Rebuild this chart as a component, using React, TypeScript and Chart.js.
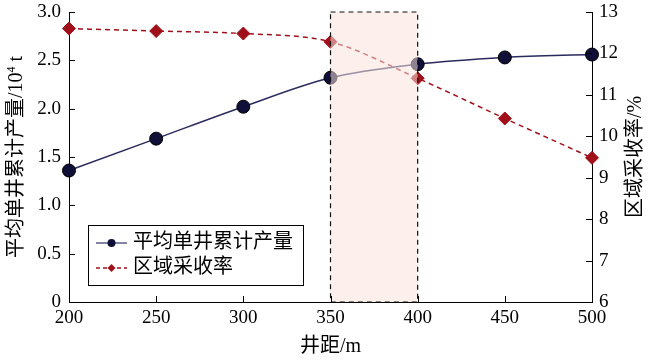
import React, { useEffect, useRef } from "react";
import { Chart, registerables } from "chart.js";
Chart.register(...registerables);

const wellSpacing = [200, 250, 300, 350, 400, 450, 500];
const avgCumulativeProduction = [1.36, 1.69, 2.02, 2.32, 2.46, 2.53, 2.56];
const recoveryRate = [12.6, 12.54, 12.48, 12.28, 11.4, 10.43, 9.48];
const leftTicks = [0, 0.5, 1.0, 1.5, 2.0, 2.5, 3.0];
const rightTicks = [6, 7, 8, 9, 10, 11, 12, 13];
const xTicks = [200, 250, 300, 350, 400, 450, 500];
const highlightRange = [350, 400];
const seriesNames = ["平均单井累计产量", "区域采收率"];
const xTitle = "井距/m";
const leftTitleParts = ["平均单井累计产量/10", "4", " t"];
const rightTitle = "区域采收率/%";

const FONT = "'Liberation Serif', 'Noto Sans CJK SC', serif";
const NAVY = "#0f0f38";
const NAVY_LINE = "#2a2a5e";
const RED = "#a0101a";

const overlay = {
  id: "overlay",
  afterDatasetsDraw(chart: any) {
    const ctx = chart.ctx;
    const { top, bottom, left, right } = chart.chartArea;
    const xs = chart.scales.x;
    const yl = chart.scales.y;
    const yr = chart.scales.y1;
    ctx.save();
    // highlight box
    const bx0 = xs.getPixelForValue(highlightRange[0]);
    const bx1 = xs.getPixelForValue(highlightRange[1]);
    ctx.fillStyle = "rgba(250, 226, 221, 0.55)";
    ctx.fillRect(bx0, top, bx1 - bx0, bottom - top);
    ctx.strokeStyle = "#111";
    ctx.lineWidth = 1.2;
    ctx.setLineDash([5, 4]);
    ctx.strokeRect(bx0, top, bx1 - bx0, bottom - top);
    ctx.setLineDash([]);

    // inward ticks
    ctx.strokeStyle = "#000";
    ctx.lineWidth = 1;
    const TL = 6;
    ctx.beginPath();
    xTicks.forEach((v) => {
      const x = Math.round(xs.getPixelForValue(v)) + 0.5;
      ctx.moveTo(x, bottom);
      ctx.lineTo(x, bottom - TL);
    });
    leftTicks.forEach((v) => {
      const y = Math.round(yl.getPixelForValue(v)) + 0.5;
      ctx.moveTo(left, y);
      ctx.lineTo(left + TL, y);
    });
    rightTicks.forEach((v) => {
      const y = Math.round(yr.getPixelForValue(v)) + 0.5;
      ctx.moveTo(right, y);
      ctx.lineTo(right - TL, y);
    });
    ctx.stroke();

    // titles
    ctx.fillStyle = "#000";
    ctx.textBaseline = "middle";
    const cy = 157;
    // left title
    ctx.save();
    ctx.translate(17, cy);
    ctx.rotate(-Math.PI / 2);
    ctx.font = `20px ${FONT}`;
    const w0 = ctx.measureText(leftTitleParts[0]).width;
    ctx.font = `12px ${FONT}`;
    const w1 = ctx.measureText(leftTitleParts[1]).width;
    ctx.font = `20px ${FONT}`;
    const w2 = ctx.measureText(leftTitleParts[2]).width;
    const sx = -(w0 + w1 + w2) / 2;
    ctx.textAlign = "left";
    ctx.fillText(leftTitleParts[0], sx, 0);
    ctx.font = `12px ${FONT}`;
    ctx.fillText(leftTitleParts[1], sx + w0, -5);
    ctx.font = `20px ${FONT}`;
    ctx.fillText(leftTitleParts[2], sx + w0 + w1, 0);
    ctx.restore();
    // right title
    ctx.save();
    ctx.translate(636, cy);
    ctx.rotate(-Math.PI / 2);
    ctx.font = `20px ${FONT}`;
    ctx.textAlign = "center";
    ctx.fillText(rightTitle, 0, 0);
    ctx.restore();
    // x title
    ctx.font = `20px ${FONT}`;
    ctx.textAlign = "center";
    ctx.fillText(xTitle, (left + right) / 2, 347);

    // legend
    ctx.fillStyle = "#fff";
    ctx.fillRect(88.5, 225.5, 215, 60);
    ctx.strokeStyle = "#000";
    ctx.lineWidth = 1;
    ctx.strokeRect(88.5, 225.5, 215, 60);
    const rows = [243, 268];
    // row 1
    ctx.strokeStyle = "#5a5a85";
    ctx.lineWidth = 1.5;
    ctx.beginPath();
    ctx.moveTo(96, rows[0]);
    ctx.lineTo(127, rows[0]);
    ctx.stroke();
    ctx.fillStyle = NAVY;
    ctx.beginPath();
    ctx.arc(111.5, rows[0], 4, 0, Math.PI * 2);
    ctx.fill();
    // row 2
    ctx.strokeStyle = RED;
    ctx.setLineDash([4, 3]);
    ctx.beginPath();
    ctx.moveTo(96, rows[1]);
    ctx.lineTo(127, rows[1]);
    ctx.stroke();
    ctx.setLineDash([]);
    ctx.fillStyle = RED;
    ctx.beginPath();
    ctx.moveTo(111.5, rows[1] - 4);
    ctx.lineTo(115.5, rows[1]);
    ctx.lineTo(111.5, rows[1] + 4);
    ctx.lineTo(107.5, rows[1]);
    ctx.closePath();
    ctx.fill();
    ctx.fillStyle = "#000";
    ctx.font = `20px ${FONT}`;
    ctx.textAlign = "left";
    ctx.fillText(seriesNames[0], 133, rows[0]);
    ctx.fillText(seriesNames[1], 133, rows[1]);
    ctx.restore();
  },
};

const zeroPad = (s: any) => {
  s.paddingTop = 0;
  s.paddingBottom = 0;
  s.paddingLeft = 0;
  s.paddingRight = 0;
};

export default function App() {
  const ref = useRef<HTMLCanvasElement>(null);
  useEffect(() => {
    if (!ref.current) return;
    const tickFont = { family: FONT, size: 19 };
    const chart = new Chart(ref.current, {
      type: "line",
      data: {
        datasets: [
          {
            label: seriesNames[0],
            data: wellSpacing.map((x, i) => ({ x, y: avgCumulativeProduction[i] })),
            yAxisID: "y",
            borderColor: NAVY_LINE,
            borderWidth: 1.5,
            pointBackgroundColor: NAVY,
            pointBorderColor: "#000",
            pointBorderWidth: 1,
            pointRadius: 6.5,
            pointStyle: "circle",
            cubicInterpolationMode: "monotone",
          },
          {
            label: seriesNames[1],
            data: wellSpacing.map((x, i) => ({ x, y: recoveryRate[i] })),
            yAxisID: "y1",
            borderColor: RED,
            borderWidth: 1.5,
            borderDash: [5, 4],
            pointBackgroundColor: RED,
            pointBorderColor: RED,
            pointBorderWidth: 1,
            pointRadius: 6.5,
            pointStyle: "rectRot",
            cubicInterpolationMode: "monotone",
          },
        ],
      },
      options: {
        animation: false,
        responsive: false,
        maintainAspectRatio: false,
        clip: false as any,
        layout: { padding: { top: 12, left: 0, right: 0, bottom: 0 } },
        plugins: { legend: { display: false }, tooltip: { enabled: false } },
        scales: {
          x: {
            type: "linear",
            min: 200,
            max: 500,
            afterBuildTicks: (s: any) => {
              s.ticks = xTicks.map((v) => ({ value: v }));
            },
            afterFit: (s: any) => {
              s.height = 59;
              zeroPad(s);
            },
            ticks: { font: tickFont, color: "#000", padding: 5, maxRotation: 0 },
            grid: { display: false, drawTicks: false },
            border: { display: true, color: "#000", width: 1 },
          },
          y: {
            type: "linear",
            position: "left",
            min: 0,
            max: 3,
            afterBuildTicks: (s: any) => {
              s.ticks = leftTicks.map((v) => ({ value: v }));
            },
            afterFit: (s: any) => {
              s.width = 69;
              zeroPad(s);
            },
            ticks: {
              font: tickFont,
              color: "#000",
              padding: 8,
              callback: (v: any) => (v === 0 ? "0" : Number(v).toFixed(1)),
            },
            grid: { display: false, drawTicks: false },
            border: { display: true, color: "#000", width: 1 },
          },
          y1: {
            type: "linear",
            position: "right",
            min: 6,
            max: 13,
            afterBuildTicks: (s: any) => {
              s.ticks = rightTicks.map((v) => ({ value: v }));
            },
            afterFit: (s: any) => {
              s.width = 58;
              zeroPad(s);
            },
            ticks: { font: tickFont, color: "#000", padding: 7 },
            grid: { display: false, drawTicks: false },
            border: { display: true, color: "#000", width: 1 },
          },
        },
      },
      plugins: [overlay],
    });
    return () => chart.destroy();
  }, []);
  return (
    <div style={{ position: "fixed", left: 0, top: 0, width: 650, height: 361, background: "#fff" }}>
      <canvas ref={ref} width={650} height={361} style={{ width: 650, height: 361 }} />
    </div>
  );
}
